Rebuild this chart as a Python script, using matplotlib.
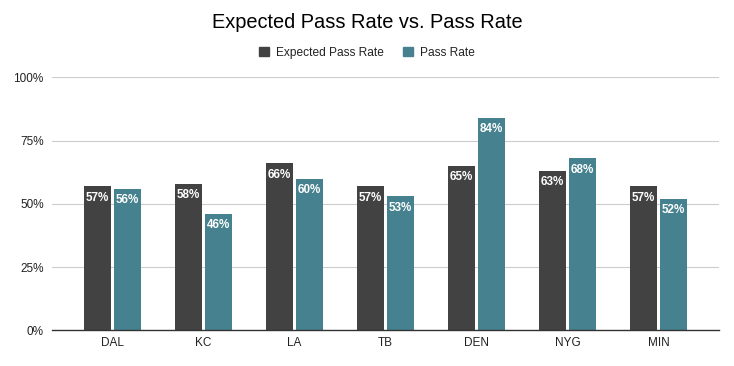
import matplotlib
matplotlib.use("Agg")
import matplotlib.pyplot as plt
import numpy as np
from matplotlib.patches import Patch

teams = ["DAL", "KC", "LA", "TB", "DEN", "NYG", "MIN"]
expected_pass_rate = [57, 58, 66, 57, 65, 63, 57]
pass_rate = [56, 46, 60, 53, 84, 68, 52]
yticks = [0, 25, 50, 75, 100]
ytick_labels = ["0%", "25%", "50%", "75%", "100%"]

plt.rcParams['font.family'] = ['Liberation Sans', 'DejaVu Sans']

dark = "#424242"
teal = "#45818e"

fig = plt.figure(figsize=(7.34, 3.66), dpi=100)
ax = fig.add_axes([52/734, 1 - 330.3/366, (719-52)/734, (330.3-77.3)/366])

x = np.arange(len(teams))
w = 0.305
off = 0.166
b1 = ax.bar(x - off, [v/100 for v in expected_pass_rate], width=w, color=dark, zorder=3)
b2 = ax.bar(x + off, [v/100 for v in pass_rate], width=w, color=teal, zorder=3)

for bars, vals in ((b1, expected_pass_rate), (b2, pass_rate)):
    for r, v in zip(bars, vals):
        ax.annotate(f"{v}%", (r.get_x() + r.get_width()/2, r.get_height()),
                    xytext=(0, -4), textcoords="offset points",
                    ha="center", va="top", color="white", fontsize=8.4,
                    fontweight="bold", zorder=4)

ax.set_xlim(-0.665, len(teams) - 1 + 0.665)
ax.set_ylim(0, 1.0)
ax.set_yticks([t/100 for t in yticks])
ax.set_yticklabels(ytick_labels)
ax.set_xticks(x)
ax.set_xticklabels(teams)
ax.tick_params(axis="both", length=0, labelsize=8.5, colors="#222222")
ax.tick_params(axis="y", pad=6)
ax.tick_params(axis="x", pad=5)
ax.grid(axis="y", color="#cccccc", linewidth=0.8, zorder=0)
for s in ["top", "right", "left"]:
    ax.spines[s].set_visible(False)
ax.spines["bottom"].set_color("#333333")
ax.spines["bottom"].set_linewidth(1.0)
ax.spines["bottom"].set_zorder(5)

fig.text(0.5, 1 - 22/366, "Expected Pass Rate vs. Pass Rate", ha="center", va="center",
         fontsize=14.4, color="#000000")

handles = [Patch(color=dark, label="Expected Pass Rate"), Patch(color=teal, label="Pass Rate")]
fig.legend(handles=handles, loc="center", bbox_to_anchor=(0.5, 1 - 53/366), ncol=2,
           frameon=False, fontsize=8.6, handlelength=0.8, handleheight=0.8,
           handletextpad=0.6, columnspacing=1.6, labelcolor="#222222")

fig.savefig("out.png", dpi=100)
